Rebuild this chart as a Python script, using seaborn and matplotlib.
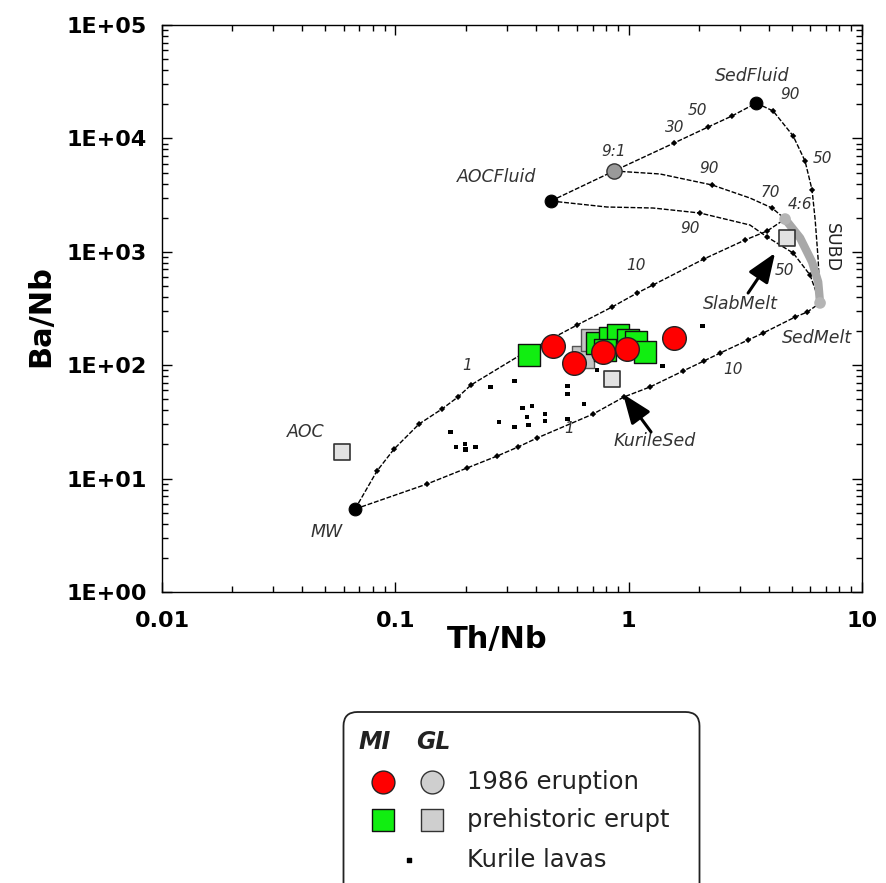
import numpy as np
import matplotlib
matplotlib.use("Agg")
import matplotlib.pyplot as plt
import matplotlib.ticker as mticker
from matplotlib.patches import FancyBboxPatch
from matplotlib.transforms import IdentityTransform
import seaborn as sns

sns.set_theme(style="ticks")
plt.rcParams['font.family'] = ['DejaVu Sans']
plt.rcParams['axes.edgecolor'] = 'black'

# end members (Th/Nb, Ba/Nb)
mw = (0.0672, 5.39)
aoc_fluid = (0.464, 2805)
sed_fluid = (3.52, 20500)
mix_91 = (0.865, 5160)
mix_46 = (4.68, 1945)
sed_melt = (6.61, 354)
aoc = (0.059, 17.2)
kurile_sed = (0.849, 75.5)
slab_melt = (4.77, 1324)

# melt inclusions / glasses
mi_1986_th = [0.474, 0.583, 0.776, 0.984, 1.566]
mi_1986_ba = [148, 104.5, 131, 139, 174]
mi_pre_th = [0.374, 0.732, 0.832, 0.901, 0.993, 1.076, 0.793, 1.175]
mi_pre_ba = [123, 157, 174, 185, 167, 160, 136, 131]
gl_pre_th = [0.638, 0.697]
gl_pre_ba = [118, 167]

# Kurile lavas
kurile_th = [0.255, 0.323, 0.549, 0.549, 0.352, 0.385, 0.367, 0.371, 0.438, 0.438,
             0.278, 0.323, 0.644, 0.545, 0.172, 0.182, 0.199, 0.200, 0.220, 0.732,
             1.40, 2.08]
kurile_ba = [64.3, 72.6, 65.6, 55.7, 42.0, 43.7, 34.9, 29.7, 37.1, 32.2,
             31.6, 28.5, 45.5, 33.5, 25.8, 19.0, 20.2, 18.2, 19.0, 90.7,
             98.4, 222]

# mixing curves (vertices) + which vertices carry tick marks
aocf_sedf_th = [0.464, 0.865, 1.566, 2.19, 2.77, 3.52]
aocf_sedf_ba = [2805, 5160, 9110, 12600, 15760, 20500]
aocf_sedf_ticks = [2, 3, 4]

sedf_sedm_th = [3.52, 4.16, 5.07, 5.70, 6.11, 6.30, 6.49, 6.61]
sedf_sedm_ba = [20500, 17450, 10500, 6320, 3510, 1907, 847, 354]
sedf_sedm_ticks = [1, 2, 3, 4]

f91_46_th = [0.865, 1.363, 2.28, 3.31, 4.12, 4.68]
f91_46_ba = [5160, 4855, 3882, 2980, 2433, 1945]
f91_46_ticks = [2, 4]

aocf_sedm_th = [0.464, 0.807, 1.272, 2.02, 3.31, 3.92, 5.07, 5.99, 6.61]
aocf_sedm_ba = [2805, 2483, 2433, 2198, 1723, 1351, 975, 624, 354]
aocf_sedm_ticks = [3, 5, 6, 7]

mw_46_th = [0.0672, 0.0835, 0.0987, 0.1264, 0.1585, 0.1857, 0.211, 0.3324, 0.601,
            0.849, 1.087, 1.272, 2.10, 3.155, 3.92, 4.68]
mw_46_ba = [5.39, 11.7, 18.2, 30.3, 41.1, 52.5, 66.9, 118, 226,
            326, 433, 510, 864, 1271, 1525, 1945]
mw_46_ticks = [1, 2, 3, 4, 5, 6, 8, 9, 10, 11, 12, 13, 14]

mw_sedm_th = [0.0672, 0.1367, 0.2029, 0.2729, 0.3357, 0.405, 0.704, 0.955, 1.235,
              1.711, 2.10, 2.466, 3.25, 3.77, 5.17, 5.82, 6.61]
mw_sedm_ba = [5.39, 8.96, 12.4, 15.8, 19.0, 22.8, 37.1, 52.5, 64.3,
              88.9, 108.9, 128, 166.8, 192, 266, 294, 354]
mw_sedm_ticks = list(range(1, 16))

subd_th = [4.68, 5.43, 6.11, 6.49, 6.61]
subd_ba = [1945, 1324, 813, 542, 354]

x_ticks = [0.01, 0.1, 1, 10]
x_tick_labels = ['0.01', '0.1', '1', '10']
y_ticks = [1, 10, 100, 1e3, 1e4, 1e5]
y_tick_labels = ['1E+00', '1E+01', '1E+02', '1E+03', '1E+04', '1E+05']

fig = plt.figure(figsize=(8.87, 8.83), dpi=100)
ax = fig.add_axes([162 / 887, 1 - 592 / 883, 700 / 887, 567 / 883])
ax.set_xscale('log')
ax.set_yscale('log')

curves = [
    (aocf_sedf_th, aocf_sedf_ba, aocf_sedf_ticks),
    (sedf_sedm_th, sedf_sedm_ba, sedf_sedm_ticks),
    (f91_46_th, f91_46_ba, f91_46_ticks),
    (aocf_sedm_th, aocf_sedm_ba, aocf_sedm_ticks),
    (mw_46_th, mw_46_ba, mw_46_ticks),
    (mw_sedm_th, mw_sedm_ba, mw_sedm_ticks),
]
for th, ba, ticks in curves:
    sns.lineplot(x=th, y=ba, ax=ax, sort=False, estimator=None, color='black',
                 lw=1.0, linestyle=(0, (3.5, 1.3)), zorder=2, legend=False)
    sns.scatterplot(x=[th[i] for i in ticks], y=[ba[i] for i in ticks], ax=ax,
                    marker='D', s=10, color='black', edgecolor='none', zorder=3, legend=False)

sns.lineplot(x=subd_th, y=subd_ba, ax=ax, sort=False, estimator=None, color='#a8a8a8',
             lw=6, solid_capstyle='round', zorder=3, legend=False)

# Kurile lavas
sns.scatterplot(x=kurile_th, y=kurile_ba, ax=ax, marker='s', s=12, color='black',
                edgecolor='none', zorder=4, legend=False)

# end-member symbols
sns.scatterplot(x=[mw[0], aoc_fluid[0], sed_fluid[0]], y=[mw[1], aoc_fluid[1], sed_fluid[1]],
                ax=ax, marker='o', s=85, color='black', edgecolor='black', zorder=5, legend=False)
sns.scatterplot(x=[mix_91[0]], y=[mix_91[1]], ax=ax, marker='o', s=120, color='#9a9a9a',
                edgecolor='#333333', linewidth=1, zorder=5, legend=False)
sns.scatterplot(x=[mix_46[0], sed_melt[0]], y=[mix_46[1], sed_melt[1]], ax=ax, marker='o', s=70,
                color='#b5b5b5', edgecolor='none', zorder=5, legend=False)
sns.scatterplot(x=[aoc[0], kurile_sed[0], slab_melt[0]], y=[aoc[1], kurile_sed[1], slab_melt[1]],
                ax=ax, marker='s', s=140, color='#e2e2e2', edgecolor='#333333', linewidth=1.2,
                zorder=6, legend=False)

# samples
sns.scatterplot(x=gl_pre_th, y=gl_pre_ba, ax=ax, marker='s', s=260, color='#c4c4c4',
                edgecolor='#555555', linewidth=1, zorder=6, legend=False)
sns.scatterplot(x=mi_pre_th, y=mi_pre_ba, ax=ax, marker='s', s=260, color='#11ee11',
                edgecolor='#111111', linewidth=1, zorder=7, legend=False)
sns.scatterplot(x=mi_1986_th, y=mi_1986_ba, ax=ax, marker='o', s=290, color='#ff0000',
                edgecolor='#222222', linewidth=1, zorder=8, legend=False)

# labels
lab = dict(style='italic', color='#333333', ha='center', va='center', zorder=9)
num = dict(style='italic', color='#333333', ha='center', va='center', fontsize=11, zorder=9)
ax.text(3.38, 35500, 'SedFluid', fontsize=12.5, **lab)
ax.text(0.273, 4570, 'AOCFluid', fontsize=12.5, **lab)
ax.text(3.0, 347, 'SlabMelt', fontsize=12.5, **lab)
ax.text(6.42, 174, 'SedMelt', fontsize=12.5, **lab)
ax.text(1.297, 21.5, 'KurileSed', fontsize=12.5, **lab)
ax.text(0.0414, 25.8, 'AOC', fontsize=12.5, **lab)
ax.text(0.0509, 3.38, 'MW', fontsize=12.5, **lab)
ax.text(7.45, 1081, 'SUBD', fontsize=12.5, rotation=-90, color='#222222',
        ha='center', va='center', zorder=9)
for x, y, t in [(1.58, 12600, '30'), (1.98, 17800, '50'), (4.9, 24500, '90'),
                (6.75, 6710, '50'), (2.21, 5480, '90'), (4.04, 3365, '70'),
                (5.43, 2590, '4:6'), (1.83, 1590, '90'), (4.63, 691, '50'),
                (1.077, 750, '10'), (0.203, 98.4, '1'), (2.80, 92.5, '10'),
                (0.555, 27.9, '1'), (0.865, 7590, '9:1')]:
    ax.text(x, y, t, **num)

arrow = dict(arrowstyle='-|>,head_length=0.9,head_width=0.35', mutation_scale=20,
             lw=2.2, color='black', shrinkA=0, shrinkB=0)
ax.annotate('', xy=(4.24, 975), xytext=(3.25, 433), arrowprops=arrow, zorder=9)
ax.annotate('', xy=(0.946, 55.7), xytext=(1.247, 25.8), arrowprops=arrow, zorder=9)

# axes
ax.set_xlim(0.01, 10)
ax.set_ylim(1, 1e5)
ax.set_xticks(x_ticks, x_tick_labels, fontweight='bold', fontsize=16)
ax.set_yticks(y_ticks, y_tick_labels, fontweight='bold', fontsize=16)
ax.xaxis.set_minor_locator(mticker.LogLocator(base=10, subs=np.arange(2, 10), numticks=20))
ax.yaxis.set_minor_locator(mticker.LogLocator(base=10, subs=np.arange(2, 10), numticks=20))
ax.xaxis.set_minor_formatter(mticker.NullFormatter())
ax.yaxis.set_minor_formatter(mticker.NullFormatter())
ax.tick_params(which='both', direction='in', top=True, right=True, width=1, color='black',
               labelcolor='black')
ax.tick_params(which='major', length=7)
ax.tick_params(which='minor', length=4)
ax.tick_params(axis='x', which='major', pad=14)
ax.tick_params(axis='y', which='major', pad=11)
for s in ax.spines.values():
    s.set_linewidth(1.0)
    s.set_color('black')
ax.set_xlabel('Th/Nb', fontsize=22, fontweight='bold', color='black')
ax.set_ylabel('Ba/Nb', fontsize=22, fontweight='bold', color='black')
ax.xaxis.set_label_coords(0.479, -0.058)
ax.yaxis.set_label_coords(-0.153, 0.487)

# legend box
box = FancyBboxPatch((343.5, -30), 356, 201, boxstyle='round,pad=0,rounding_size=14',
                     transform=IdentityTransform(), fill=False, lw=1.3, edgecolor='#222222')
fig.add_artist(box)
lax = fig.add_axes([343 / 887, 0, 357 / 887, 171 / 883])
lax.set_xlim(0, 1)
lax.set_ylim(0, 1)
lax.axis('off')
leg_font = dict(fontsize=17.5, color='#222222', ha='left', va='center')
lax.text(0.0896, 0.8246, 'MI', fontsize=17, fontweight='bold', style='italic', ha='center', va='center', color='#222222')
lax.text(0.252, 0.8246, 'GL', fontsize=17, fontweight='bold', style='italic', ha='center', va='center', color='#222222')
lax.scatter([0.112], [0.5906], marker='o', s=270, color='#ff0000', edgecolor='#222222', lw=1, clip_on=False)
lax.scatter([0.249], [0.5906], marker='o', s=270, color='#cfcfcf', edgecolor='#333333', lw=1, clip_on=False)
lax.scatter([0.112], [0.3684], marker='s', s=250, color='#11ee11', edgecolor='#111111', lw=1, clip_on=False)
lax.scatter([0.249], [0.3684], marker='s', s=250, color='#cfcfcf', edgecolor='#333333', lw=1, clip_on=False)
lax.scatter([0.185], [0.1345], marker='s', s=12, color='black', clip_on=False)
lax.text(0.347, 0.5906, '1986 eruption', **leg_font)
lax.text(0.347, 0.3684, 'prehistoric erupt', **leg_font)
lax.text(0.347, 0.1345, 'Kurile lavas', **leg_font)

fig.savefig('out.png', dpi=100)
